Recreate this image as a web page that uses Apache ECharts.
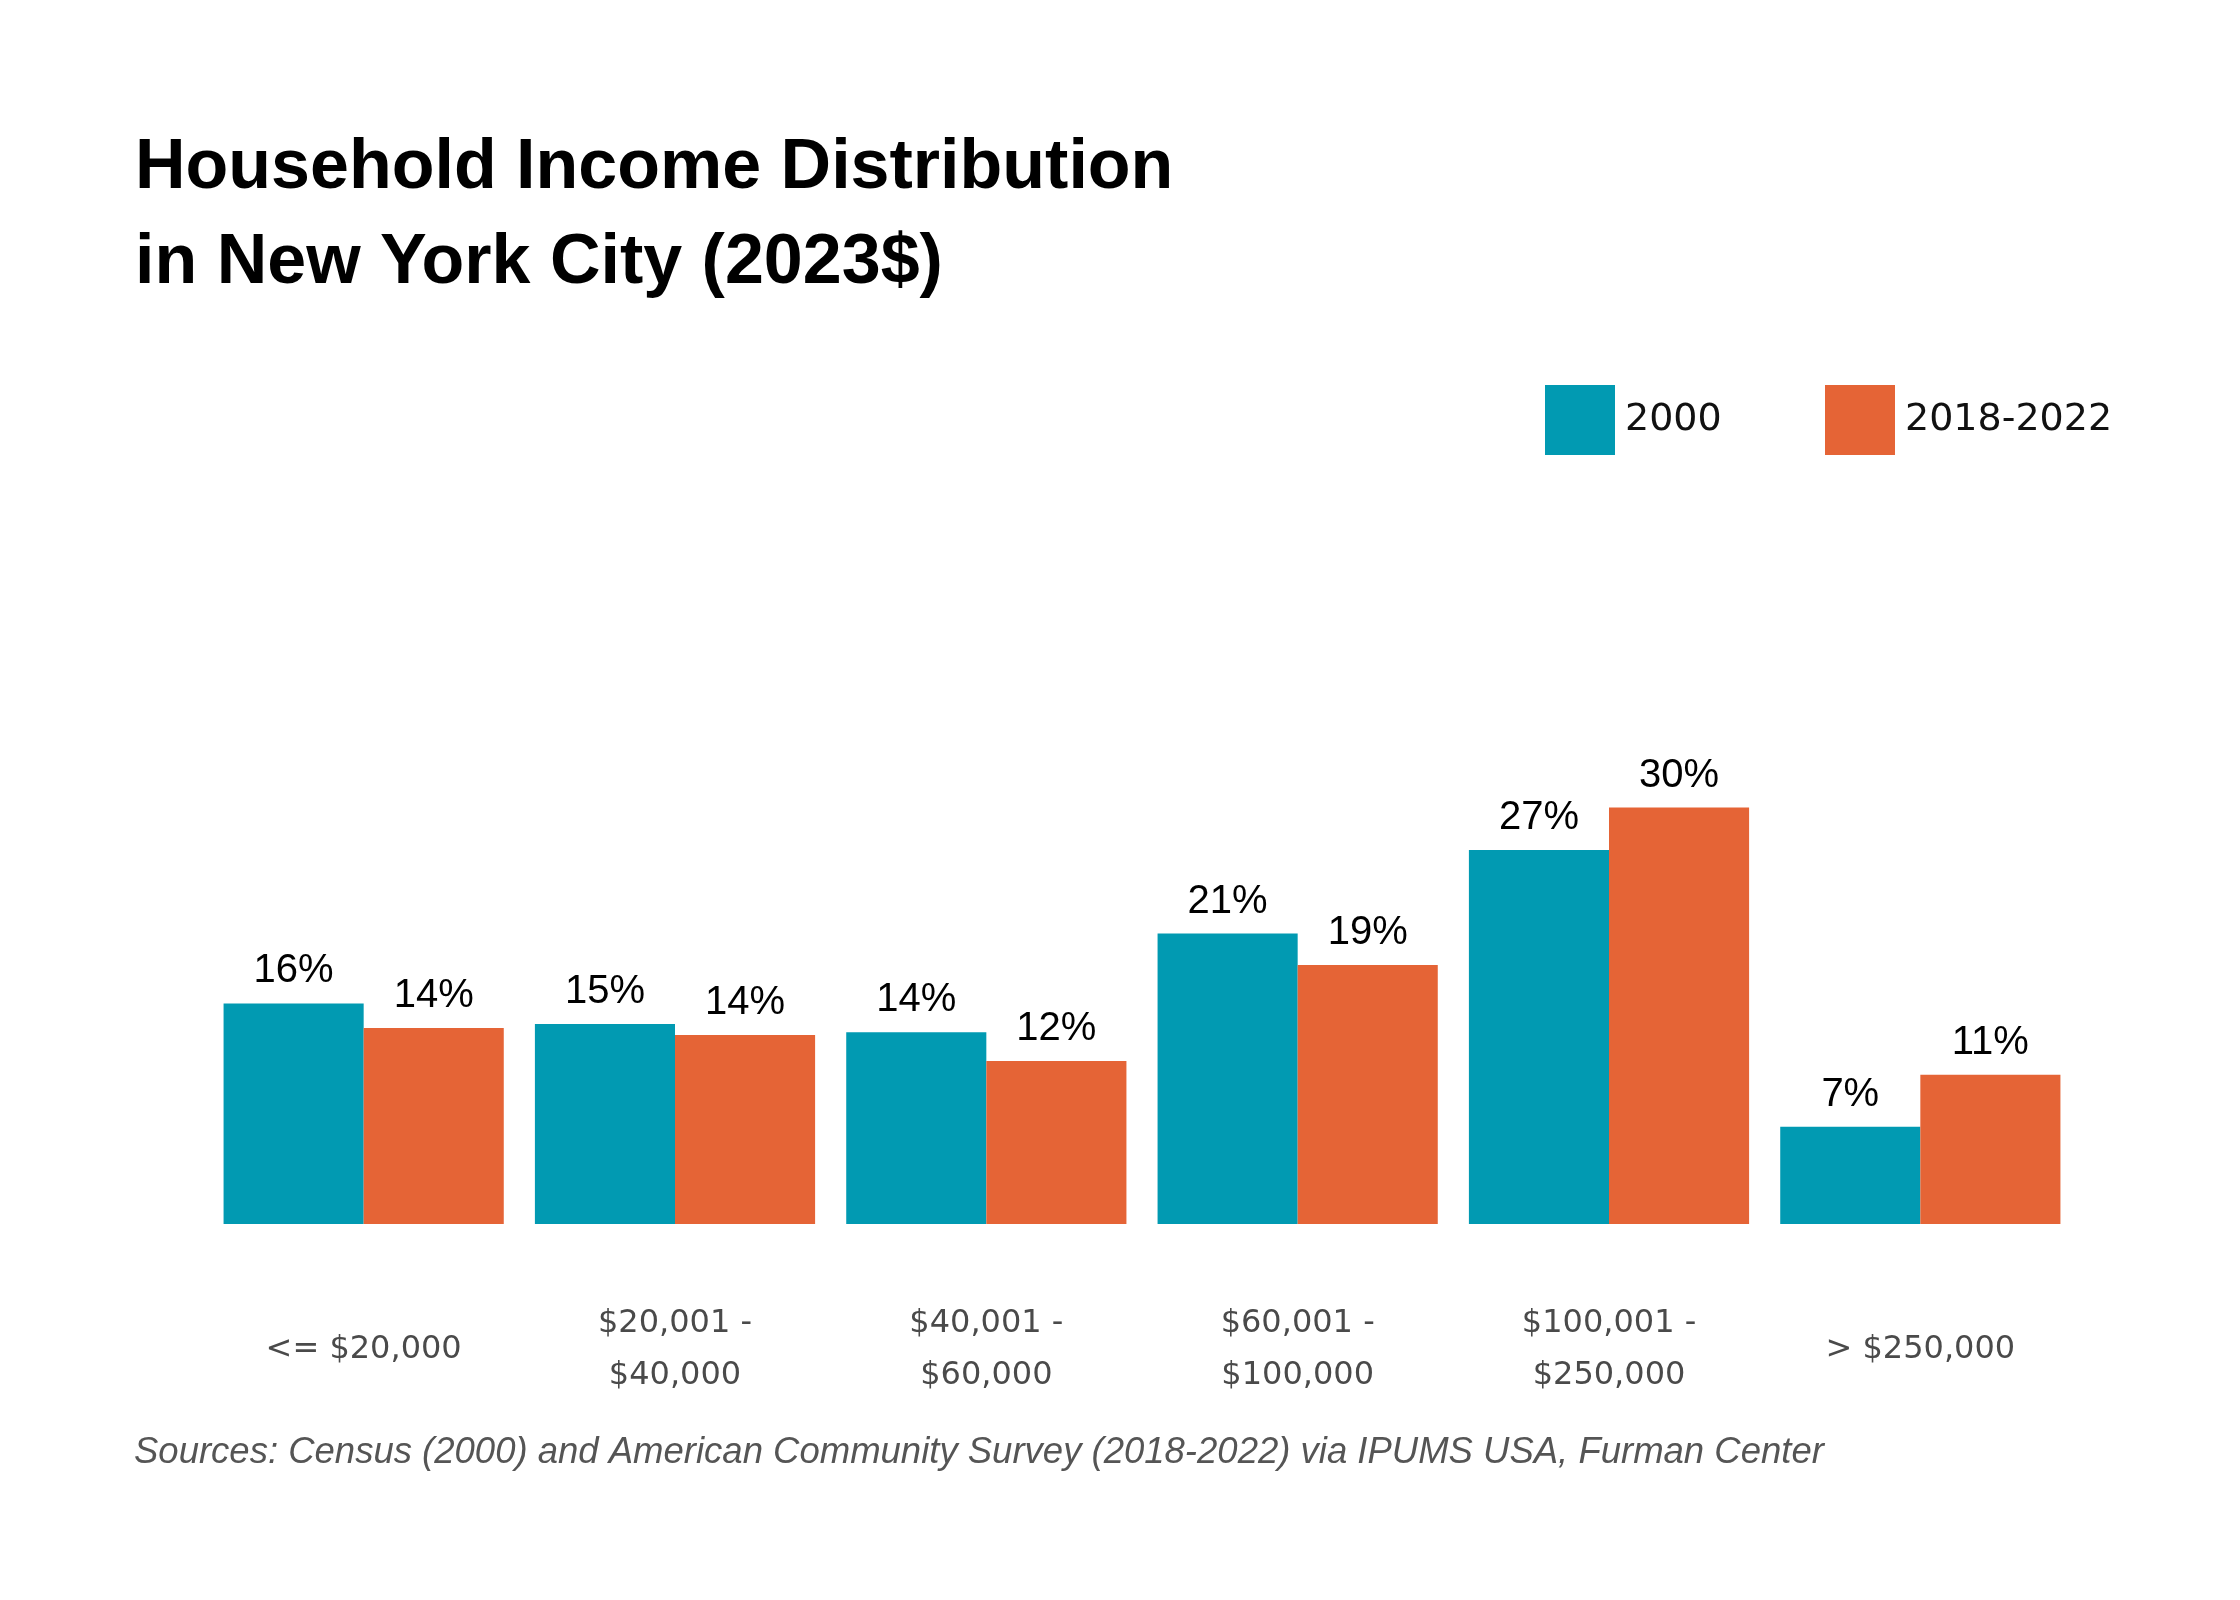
<!DOCTYPE html>
<html lang="en">
<head>
    <meta charset="UTF-8">
    <title>Household Income Distribution in New York City</title>
    <script src="https://cdn.jsdelivr.net/npm/echarts@6/dist/echarts.min.js"></script>
</head>
<body style="margin:0; background:#fff;">
    <!-- chart container -->
    <div id="chart-container" style="width: 2240px; height: 1600px;"></div>

    <script>
    // income brackets (x axis)
    var incomeBrackets = ['<= $20,000', '$20,001 -\n$40,000', '$40,001 -\n$60,000', '$60,001 -\n$100,000', '$100,001 -\n$250,000', '> $250,000'];
    // share of households, %
    var share2000 = [16.1, 14.6, 14.0, 21.2, 27.3, 7.1];
    var share2018_2022 = [14.3, 13.8, 11.9, 18.9, 30.4, 10.9];
    var seriesNames = ['2000', '2018-2022'];

    var chart = echarts.init(document.getElementById('chart-container'));

    var labelFont = 'Liberation Sans, Arial, sans-serif';
    var bodyFont = 'DejaVu Sans, sans-serif';

    function pctLabel(p) {
        return Math.round(p.value) + '%';
    }

    var option = {
        backgroundColor: '#ffffff',
        animation: false,
        title: [{
            text: 'Household Income Distribution\nin New York City (2023$)',
            left: 130,
            top: 116,
            textStyle: {
                fontFamily: labelFont,
                fontWeight: 'bold',
                fontSize: 70,
                lineHeight: 95,
                color: '#000'
            }
        }, {
            text: 'Sources: Census (2000) and American Community Survey (2018-2022) via IPUMS USA, Furman Center',
            left: 129,
            top: 1429,
            textStyle: {
                fontFamily: labelFont,
                fontStyle: 'italic',
                fontWeight: 'normal',
                fontSize: 36.5,
                color: '#555555'
            }
        }],
        // two legends so each item sits where the original has it
        legend: [{
            data: [seriesNames[0]],
            left: 1540,
            top: 380,
            itemWidth: 70,
            itemHeight: 70,
            icon: 'rect',
            textStyle: { fontFamily: bodyFont, fontSize: 38, color: '#111', padding: [0, 0, 0, 5] }
        }, {
            data: [seriesNames[1]],
            left: 1820,
            top: 380,
            itemWidth: 70,
            itemHeight: 70,
            icon: 'rect',
            textStyle: { fontFamily: bodyFont, fontSize: 38, color: '#111', padding: [0, 0, 0, 5] }
        }],
        grid: {
            left: 208,
            right: 164,
            top: 676,
            bottom: 376
        },
        xAxis: {
            type: 'category',
            data: incomeBrackets,
            axisLine: { show: false },
            axisTick: { show: false },
            axisLabel: {
                margin: 126,
                verticalAlign: 'middle',
                fontFamily: bodyFont,
                fontSize: 32,
                lineHeight: 52,
                color: '#4a4a4a'
            }
        },
        yAxis: {
            type: 'value',
            min: 0,
            max: 40,
            show: false,
            splitLine: { show: false }
        },
        series: [{
            name: seriesNames[0],
            type: 'bar',
            data: share2000,
            barGap: 0,
            barCategoryGap: '10%',
            itemStyle: { color: '#019AB2' },
            label: {
                show: true,
                position: 'top',
                distance: 12,
                formatter: pctLabel,
                fontFamily: labelFont,
                fontSize: 40,
                color: '#000'
            }
        }, {
            name: seriesNames[1],
            type: 'bar',
            data: share2018_2022,
            barGap: 0,
            barCategoryGap: '10%',
            itemStyle: { color: '#E56436' },
            label: {
                show: true,
                position: 'top',
                distance: 12,
                formatter: pctLabel,
                fontFamily: labelFont,
                fontSize: 40,
                color: '#000'
            }
        }]
    };

    chart.setOption(option);
    </script>
</body>
</html>
